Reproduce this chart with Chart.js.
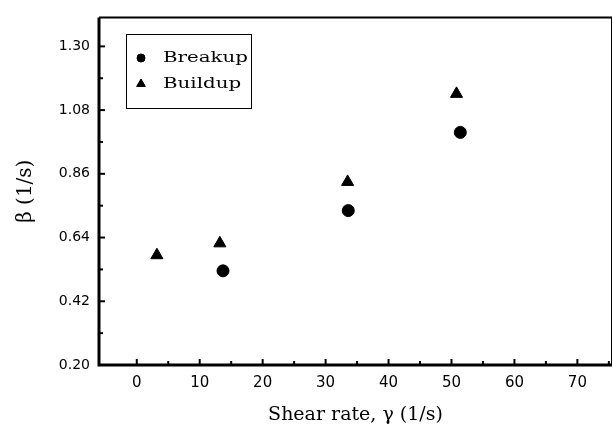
<!DOCTYPE html>
<html>
<head>
<meta charset="utf-8">
<script src="https://cdn.jsdelivr.net/npm/chart.js@4/dist/chart.umd.min.js"></script>
<style>
  body { margin: 0; background: #fff; }
  #wrap { width: 613px; height: 431px; position: relative; }
</style>
</head>
<body>
<div id="wrap"><canvas id="chart"></canvas></div>
<script>
const breakupX = [13.7, 33.6, 51.4];
const breakupY = [0.525, 0.733, 1.003];
const buildupX = [3.2, 13.2, 33.5, 50.8];
const buildupY = [0.579, 0.62, 0.832, 1.136];
const xTicks = [0, 10, 20, 30, 40, 50, 60, 70];
const yTicks = [0.20, 0.42, 0.64, 0.86, 1.08, 1.30];
const seriesNames = ["Breakup", "Buildup"];

function toPoints(xs, ys) {
  return xs.map((x, i) => ({ x: x, y: ys[i] }));
}

// frame, inward ticks and the boxed legend
const framePlugin = {
  id: "frame",
  afterDraw(chart) {
    const { ctx, chartArea: a, scales } = chart;
    ctx.save();
    ctx.strokeStyle = "#000";
    ctx.lineCap = "butt";

    // axes lines
    ctx.lineWidth = 3;
    ctx.beginPath();
    ctx.moveTo(a.left, a.top);
    ctx.lineTo(a.left, a.bottom);
    ctx.lineTo(a.right, a.bottom);
    ctx.stroke();
    ctx.lineWidth = 2;
    ctx.beginPath();
    ctx.moveTo(a.left, a.top);
    ctx.lineTo(a.right, a.top);
    ctx.stroke();
    ctx.lineWidth = 1;
    ctx.beginPath();
    ctx.moveTo(a.right - 0.5, a.top);
    ctx.lineTo(a.right - 0.5, a.bottom);
    ctx.stroke();

    // x ticks
    ctx.lineWidth = 2;
    xTicks.forEach((v) => {
      const px = scales.x.getPixelForValue(v);
      ctx.beginPath();
      ctx.moveTo(px, a.bottom);
      ctx.lineTo(px, a.bottom - 6);
      ctx.stroke();
      const mx = scales.x.getPixelForValue(v + 5);
      if (mx < a.right) {
        ctx.beginPath();
        ctx.moveTo(mx, a.bottom);
        ctx.lineTo(mx, a.bottom - 4);
        ctx.stroke();
      }
    });
    // y ticks
    yTicks.forEach((v) => {
      const py = scales.y.getPixelForValue(v);
      ctx.beginPath();
      ctx.moveTo(a.left, py);
      ctx.lineTo(a.left + 6, py);
      ctx.stroke();
      const my = scales.y.getPixelForValue(v + 0.11);
      if (my > a.top) {
        ctx.beginPath();
        ctx.moveTo(a.left, my);
        ctx.lineTo(a.left + 4, my);
        ctx.stroke();
      }
    });

    // legend box
    ctx.lineWidth = 1;
    ctx.strokeRect(126.5, 34.5, 125, 74);
    chart.data.datasets.forEach((ds, i) => {
      const y = 58 + i * 26;
      Chart.helpers.drawPoint(ctx, {
        pointStyle: ds.pointStyle,
        radius: ds.pointRadius - 2,
        borderWidth: 1
      }, 141, y);
      ctx.fillStyle = "#000";
      ctx.fill();
      ctx.save();
      ctx.translate(163, y);
      ctx.scale(1.32, 1);
      ctx.font = "15px 'DejaVu Serif'";
      ctx.textBaseline = "middle";
      ctx.fillText(ds.label, 0, 0);
      ctx.restore();
    });
    ctx.restore();
  }
};

new Chart(document.getElementById("chart"), {
  type: "scatter",
  data: {
    datasets: [
      {
        label: seriesNames[0],
        data: toPoints(breakupX, breakupY),
        pointStyle: "circle",
        pointRadius: 6,
        backgroundColor: "#000",
        borderColor: "#000"
      },
      {
        label: seriesNames[1],
        data: toPoints(buildupX, buildupY),
        pointStyle: "triangle",
        pointRadius: 7,
        backgroundColor: "#000",
        borderColor: "#000"
      }
    ]
  },
  options: {
    responsive: true,
    maintainAspectRatio: false,
    animation: false,
    layout: { autoPadding: false, padding: { top: 14, right: 1, left: 0, bottom: 0 } },
    plugins: { legend: { display: false }, tooltip: { enabled: false } },
    scales: {
      x: {
        type: "linear",
        min: -6,
        max: 75.5,
        grid: { display: false, drawTicks: false },
        border: { display: false },
        afterBuildTicks: (s) => { s.ticks = xTicks.map((v) => ({ value: v })); },
        afterFit: (s) => { s.height = 66; },
        ticks: {
          padding: 9,
          color: "#000",
          font: { family: "'DejaVu Sans'", size: 15 }
        },
        title: {
          display: true,
          text: "Shear rate, γ (1/s)",
          color: "#000",
          font: { family: "'DejaVu Serif'", size: 19 },
          padding: { top: 0, bottom: 5 }
        }
      },
      y: {
        type: "linear",
        min: 0.2,
        max: 1.4,
        grid: { display: false, drawTicks: false },
        border: { display: false },
        afterBuildTicks: (s) => { s.ticks = yTicks.map((v) => ({ value: v })); },
        afterFit: (s) => { s.width = 99; },
        ticks: {
          padding: 9,
          color: "#000",
          font: { family: "'DejaVu Sans'", size: 14 },
          callback: (v) => Number(v).toFixed(2)
        },
        title: {
          display: true,
          text: "β (1/s)",
          color: "#000",
          font: { family: "'DejaVu Serif'", size: 20 },
          padding: { top: 14, bottom: 0 }
        }
      }
    }
  },
  plugins: [framePlugin]
});
</script>
</body>
</html>
